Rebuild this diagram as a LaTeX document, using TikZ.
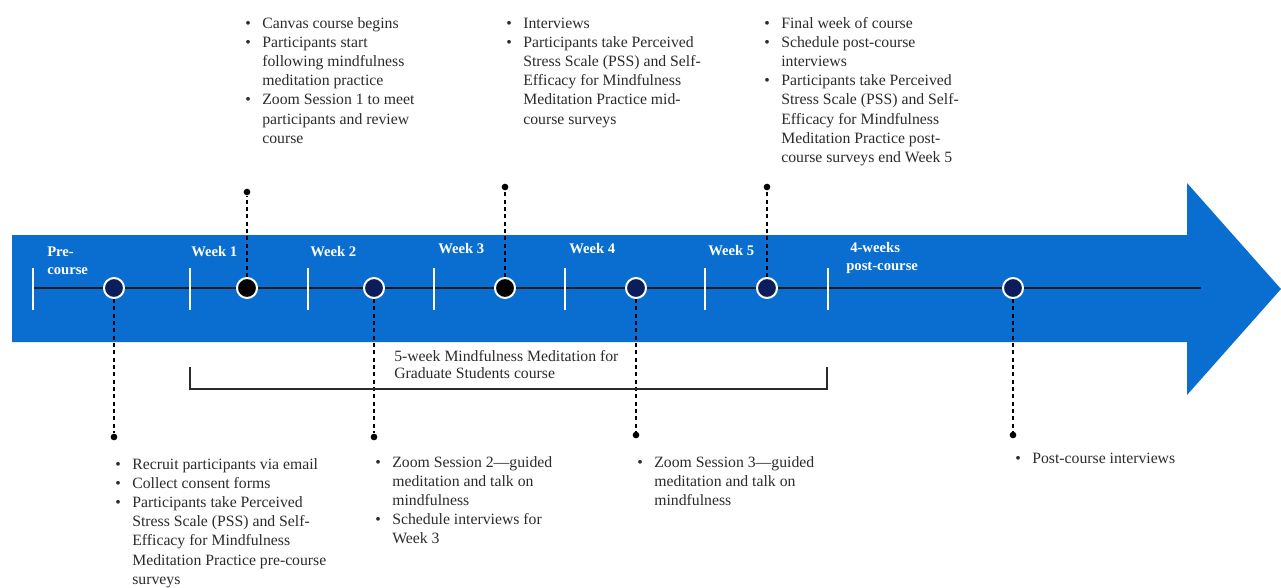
\documentclass[tikz,border=0pt]{standalone}
\usepackage{fontspec}
\setmainfont{Liberation Serif}
\usepackage{xcolor}
\definecolor{arrowBlue}{HTML}{0A6ED1}
\definecolor{markNavy}{HTML}{0B1E5B}
\definecolor{noteDark}{HTML}{2B2B2B}
\usetikzlibrary{positioning}
\tikzset{%
  eventMark/.style={%
    circle,
    draw=white,
    line width=1.5pt,
    fill=markNavy,
    minimum size=15pt,
    inner sep=0pt
  },
  keyMark/.style={%
    eventMark,
    fill=black
  },
  pinDot/.style={%
    circle,
    fill=black,
    minimum size=5pt,
    inner sep=0pt
  },
  pinLine/.style={%
    dash pattern=on 3pt off 2.5pt,
    line width=0.9pt,
    color=black
  },
  weekTick/.style={%
    white,
    line width=1.1pt
  },
  weekLabel/.style={%
    text=white,
    font=\fontsize{11}{13.5}\selectfont\bfseries,
    align=left,
    inner sep=0pt,
    anchor=base west
  },
  noteBlock/.style={%
    text=noteDark,
    font=\fontsize{11.8}{14.4}\selectfont,
    inner sep=0pt,
    anchor=base west
  },
  spanLabel/.style={%
    text=noteDark,
    font=\fontsize{11.8}{12.6}\selectfont,
    align=left,
    inner sep=0pt,
    anchor=base west
  },
  spanLine/.style={%
    draw=noteDark,
    line width=0.9pt
  }
}
\newcommand{\notelist}[1]{\begin{tabular}[t]{@{}p{12.8pt}@{}l@{}}#1\end{tabular}}
\newcommand{\bul}{\textbullet}

\begin{document}
\begin{tikzpicture}[x=0.75pt,y=-0.75pt]
  \useasboundingbox (0,0) rectangle (1281,587);

  % big arrow
  \fill[arrowBlue] (12,235) -- (1187,235) -- (1187,183) -- (1281,289)
    -- (1187,395) -- (1187,342) -- (12,342) -- cycle;

  % timeline and week ticks
  \coordinate (tlStart) at (33,288);
  \coordinate (tlEnd) at (1201,288);
  \draw[line width=1.5pt, black!90] (tlStart) -- (tlEnd);
  \draw[weekTick] (33,268) -- (33,310) (190,268) -- (190,310)
    (308,268) -- (308,310) (434,268) -- (434,310) (565,268) -- (565,310)
    (705,268) -- (705,310) (828,268) -- (828,310);

  % two-line labels sit on their last line
  \node[weekLabel] (lblPre) at (47,274) {Pre-\\course};
  \node[weekLabel] (lblW1) at (191,256) {Week 1};
  \node[weekLabel] (lblW2) at (310,256) {Week 2};
  \node[weekLabel] (lblW3) at (438,253) {Week 3};
  \node[weekLabel] (lblW4) at (569,253) {Week 4};
  \node[weekLabel] (lblW5) at (708,255) {Week 5};
  \node[weekLabel] (lblPost) at (846,270) {\hspace{3pt}4-weeks\\post-course};

  % events on the line
  \node[eventMark] (mPre) at (114,288) {};
  \node[keyMark] (mW1) at (247,288) {};
  \node[eventMark] (mW2) at (374,288) {};
  \node[keyMark] (mW3) at (505,288) {};
  \node[eventMark] (mW4) at (636,288) {};
  \node[eventMark] (mW5) at (767,288) {};
  \node[eventMark] (mPost) at (1013,288) {};

  \node[pinDot] (dW1) at (247,192) {};
  \node[pinDot] (dW3) at (505,187) {};
  \node[pinDot] (dW5) at (767,187) {};
  \node[pinDot] (dPre) at (114,437) {};
  \node[pinDot] (dW2) at (374,437) {};
  \node[pinDot] (dW4) at (636,435) {};
  \node[pinDot] (dPost) at (1013,435) {};

  \draw[pinLine] (mW1) -- (dW1);
  \draw[pinLine] (mW3) -- (dW3);
  \draw[pinLine] (mW5) -- (dW5);
  \draw[pinLine] (mPre) -- (dPre);
  \draw[pinLine] (mW2) -- (dW2);
  \draw[pinLine] (mW4) -- (dW4);
  \draw[pinLine] (mPost) -- (dPost);

  % course span
  \draw[spanLine] (190,367) |- (827,389) -- (827,367);
  \node[spanLabel] (spanText) at (394,378) {5-week Mindfulness Meditation for\\Graduate Students course};

  % notes above
  \node[noteBlock] (noteW1) at (245,28) {\notelist{%
    \bul & Canvas course begins\\
    \bul & Participants start\\
         & following mindfulness\\
         & meditation practice\\
    \bul & Zoom Session 1 to meet\\
         & participants and review\\
         & course}};
  \node[noteBlock] (noteW3) at (506,28) {\notelist{%
    \bul & Interviews\\
    \bul & Participants take Perceived\\
         & Stress Scale (PSS) and Self-\\
         & Efficacy for Mindfulness\\
         & Meditation Practice mid-\\
         & course surveys}};
  \node[noteBlock] (noteW5) at (764,28) {\notelist{%
    \bul & Final week of course\\
    \bul & Schedule post-course\\
         & interviews\\
    \bul & Participants take Perceived\\
         & Stress Scale (PSS) and Self-\\
         & Efficacy for Mindfulness\\
         & Meditation Practice post-\\
         & course surveys end Week 5}};

  % notes below
  \node[noteBlock] (notePre) at (115,469) {\notelist{%
    \bul & Recruit participants via email\\
    \bul & Collect consent forms\\
    \bul & Participants take Perceived\\
         & Stress Scale (PSS) and Self-\\
         & Efficacy for Mindfulness\\
         & Meditation Practice pre-course\\
         & surveys}};
  \node[noteBlock] (noteW2) at (375,467) {\notelist{%
    \bul & Zoom Session 2—guided\\
         & meditation and talk on\\
         & mindfulness\\
    \bul & Schedule interviews for\\
         & Week 3}};
  \node[noteBlock] (noteW4) at (637,467) {\notelist{%
    \bul & Zoom Session 3—guided\\
         & meditation and talk on\\
         & mindfulness}};
  \node[noteBlock] (notePost) at (1015,463) {\notelist{%
    \bul & Post-course interviews}};

\end{tikzpicture}
\end{document}
